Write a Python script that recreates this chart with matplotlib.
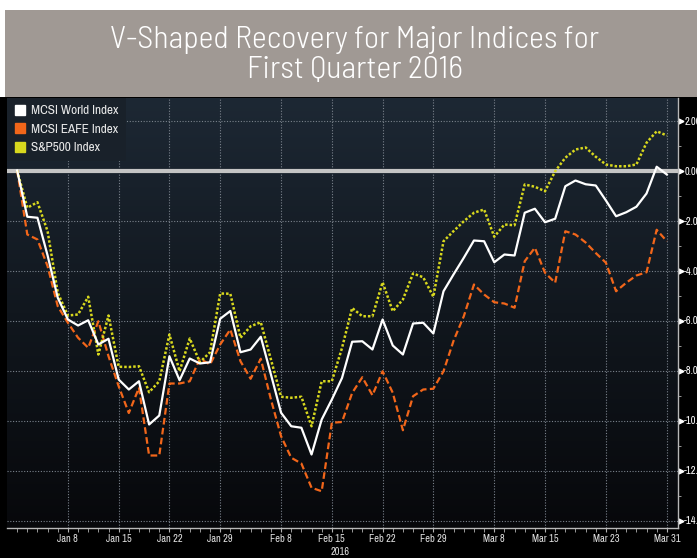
import numpy as np
import pandas as pd
import matplotlib
matplotlib.use("Agg")
import matplotlib.pyplot as plt
from matplotlib.colors import LinearSegmentedColormap
from matplotlib.lines import Line2D
from matplotlib.patches import Rectangle

# weekday axis, Q1 2016 (cumulative % change)
dates = pd.bdate_range("2016-01-01", "2016-03-31")

world = [0.0, -1.85, -1.89, -3.4, -5.09, -5.96, -6.2, -5.99, -6.96, -6.73,
         -8.36, -8.76, -8.43, -10.16, -9.8, -7.43, -8.39, -7.52, -7.72, -7.67,
         -5.93, -5.62, -7.27, -7.16, -6.65, -8.16, -9.69, -10.23, -10.29, -11.36,
         -9.96, -9.16, -8.3, -6.85, -6.83, -7.16, -5.96, -7.0, -7.36, -6.12,
         -6.09, -6.52, -4.83, -4.15, -3.49, -2.8, -2.83, -3.67, -3.36, -3.4,
         -1.69, -1.53, -2.07, -1.93, -0.63, -0.4, -0.55, -0.6, -1.2, -1.83,
         -1.67, -1.45, -0.92, 0.15, -0.16]

eafe = [0.0, -2.56, -2.76, -3.83, -5.43, -6.09, -6.69, -7.09, -6.03, -7.43,
        -8.63, -9.7, -8.69, -11.4, -11.4, -8.52, -8.52, -8.43, -7.53, -7.76,
        -6.96, -6.36, -7.63, -8.33, -7.53, -9.16, -10.63, -11.49, -11.72, -12.69,
        -12.83, -10.09, -10.06, -8.9, -8.27, -8.99, -8.03, -8.89, -10.39, -9.03,
        -8.76, -8.73, -8.03, -6.8, -5.83, -4.56, -4.96, -5.27, -5.32, -5.49,
        -3.63, -3.09, -4.09, -4.49, -2.43, -2.56, -2.88, -3.3, -3.69, -4.83,
        -4.49, -4.2, -4.07, -2.37, -2.83]

spx = [0.0, -1.49, -1.27, -2.43, -4.89, -5.8, -5.76, -5.05, -7.36, -5.8,
       -7.85, -7.86, -7.83, -8.87, -8.43, -6.56, -8.03, -6.72, -7.67, -7.27,
       -4.92, -4.93, -6.69, -6.23, -6.07, -7.56, -9.05, -9.09, -9.05, -10.23,
       -8.43, -8.43, -7.1, -5.5, -5.83, -5.83, -4.47, -5.63, -5.16, -4.12,
       -4.27, -5.05, -2.83, -2.42, -2.03, -1.69, -1.56, -2.65, -2.16, -2.19,
       -0.56, -0.65, -0.83, -0.03, 0.51, 0.84, 0.92, 0.55, 0.24, 0.17,
       0.17, 0.24, 1.11, 1.57, 1.4]

tick_dates = ["2016-01-08", "2016-01-15", "2016-01-22", "2016-01-29",
              "2016-02-08", "2016-02-15", "2016-02-22", "2016-02-29",
              "2016-03-08", "2016-03-15", "2016-03-23", "2016-03-31"]
tick_labels = ["Jan 8", "Jan 15", "Jan 22", "Jan 29", "Feb 8", "Feb 15",
               "Feb 22", "Feb 29", "Mar 8", "Mar 15", "Mar 23", "Mar 31"]
y_ticks = [2, 0, -2, -4, -6, -8, -10, -12, -14]

series_names = ["MCSI World Index", "MCSI EAFE Index", "S&P500 Index"]
colors = ["#ffffff", "#f2661a", "#d8d81e"]

narrow = ["Archivo Narrow", "DejaVu Sans"]
title_font = ["Barlow Semi Condensed", "DejaVu Sans"]

x = np.arange(len(dates))
tick_pos = dates.get_indexer(pd.to_datetime(tick_dates))

fig = plt.figure(figsize=(6.97, 5.58), dpi=100, facecolor="black")

# title band
fig.patches.append(Rectangle((0, 1 - 10 / 558), 1, 10 / 558, transform=fig.transFigure,
                             facecolor="white", edgecolor="none", zorder=0))
fig.patches.append(Rectangle((0, 1 - 97 / 558), 5 / 697, 87 / 558, transform=fig.transFigure,
                             facecolor="white", edgecolor="none", zorder=0))
fig.patches.append(Rectangle((5 / 697, 1 - 97 / 558), 1, 87 / 558, transform=fig.transFigure,
                             facecolor="#a09994", edgecolor="none", zorder=0))
fig.text(0.509, 1 - 55 / 558, "V-Shaped Recovery for Major Indices for\nFirst Quarter 2016",
         ha="center", va="center", color="white", fontsize=23, family=title_font,
         fontweight=300, linespacing=1.12)

ax = fig.add_axes([7 / 697, 30 / 558, 671 / 697, 430 / 558])

# dark gradient background
cmap = LinearSegmentedColormap.from_list("bg", ["#07080b", "#11171e", "#1d2834"])
ax.imshow(np.linspace(0, 1, 256).reshape(-1, 1), cmap=cmap, origin="lower",
          extent=(0, 1, 0, 1), transform=ax.transAxes, aspect="auto", zorder=0)

for yv in y_ticks:
    ax.axhline(yv, color="#7a828c", lw=0.8, ls=(0, (1, 1.5)), zorder=1)
for xv in tick_pos:
    ax.axvline(xv, color="#7a828c", lw=0.8, ls=(0, (1, 1.5)), zorder=1)
ax.axhline(0, color="#c4c4c4", lw=3, zorder=2)

ax.plot(x, eafe, color=colors[1], lw=1.6, ls=(0, (3, 1.5)), zorder=3)
ax.plot(x, spx, color=colors[2], lw=1.8, ls=(0, (1, 0.8)), zorder=3)
ax.plot(x, world, color=colors[0], lw=1.6, zorder=4)

ax.set_xlim(-1.0, 65.1)
ax.set_ylim(-14.3, 2.9)

ax.set_xticks(tick_pos)
ax.set_xticklabels(tick_labels)
ax.set_xticks(x, minor=True)
ax.tick_params(axis="x", which="both", direction="out", length=3, color="#b0b0b0",
               labelcolor="#e0e0e0", labelsize=7.5, pad=1.5)
for lab in ax.get_xticklabels():
    lab.set_family(narrow)

ax.yaxis.tick_right()
ax.set_yticks(y_ticks)
ax.set_yticklabels([f"{v:.2f}" for v in y_ticks])
ax.set_yticks(np.arange(-13, 3, 2), minor=True)
ax.tick_params(axis="y", which="major", length=0, pad=4.5, labelcolor="white", labelsize=7.5)
ax.tick_params(axis="y", which="minor", length=2, color="#b0b0b0", direction="out")
for lab in ax.get_yticklabels():
    lab.set_family(narrow)
ax.plot([1.004] * len(y_ticks), y_ticks, marker=">", ms=3.5, ls="none", color="white",
        transform=ax.get_yaxis_transform(), clip_on=False)

for side in ["left", "top"]:
    ax.spines[side].set_visible(False)
for side in ["right", "bottom"]:
    ax.spines[side].set_color("#b8b8b8")
    ax.spines[side].set_linewidth(1)

ax.annotate("2016", xy=(31.8, 0), xycoords=("data", "axes fraction"),
            xytext=(0, -24), textcoords="offset pixels", ha="center", va="center",
            color="#e0e0e0", fontsize=7.5, family=narrow, annotation_clip=False)

handles = [Line2D([], [], marker="s", ls="none", ms=7, color=c) for c in colors]
leg = ax.legend(handles, series_names, loc="upper left", borderaxespad=0,
                frameon=True, fancybox=False, facecolor="#19212a", edgecolor="none",
                framealpha=1, handlelength=0.8, handletextpad=0.5, labelspacing=0.55,
                borderpad=0.55, prop={"family": narrow, "size": 9.5})
for t in leg.get_texts():
    t.set_color("#e8e8e8")
leg.set_zorder(5)

fig.savefig("out.png", dpi=100, facecolor=fig.get_facecolor())
